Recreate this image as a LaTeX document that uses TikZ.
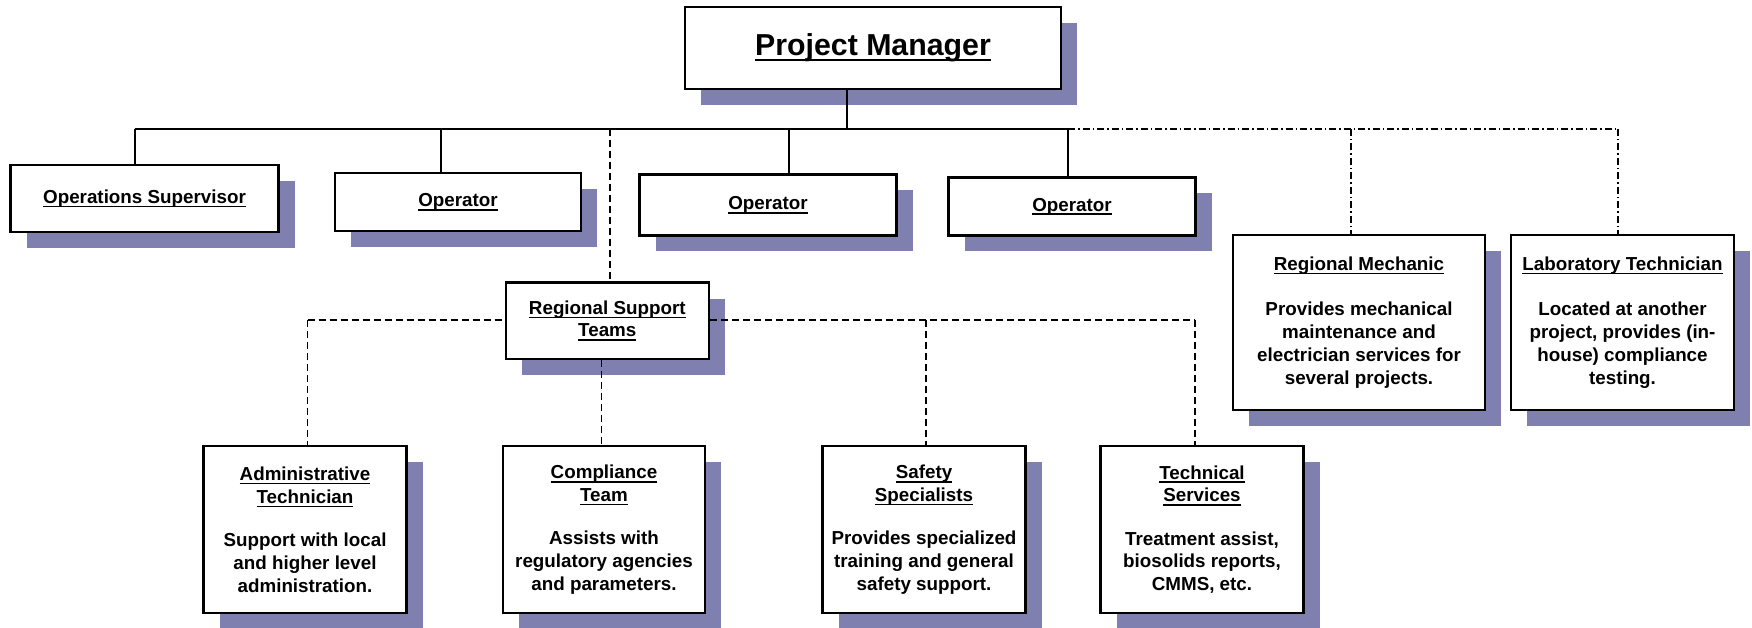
\documentclass[tikz,border=0pt]{standalone}
\usepackage{fontspec}
\setmainfont{Liberation Sans}
\usetikzlibrary{shadows}
\definecolor{shade}{RGB}{128,128,176}
\newsavebox\ulbox
\newcommand\ulx[1]{\sbox\ulbox{#1}\rlap{\rule[-4.1pt]{\wd\ulbox}{1.7pt}}\usebox\ulbox}
\newcommand\ulbig[1]{\sbox\ulbox{#1}\rlap{\rule[-5.4pt]{\wd\ulbox}{2.6pt}}\usebox\ulbox}
\tikzset{
  orgbox/.style={draw, line width=2.4pt, fill=white, align=center, inner sep=0pt,
    font=\bfseries\fontsize{18.8}{22.8}\selectfont,
    drop shadow={shadow xshift=16pt, shadow yshift=-16pt, fill=shade, opacity=1}},
  conn/.style={line width=1.4pt},
  dashconn/.style={line width=1.5pt, dash pattern=on 7pt off 4pt},
  dotdash/.style={line width=1.5pt, dash pattern=on 7pt off 3pt on 1.5pt off 3pt}
}
\begin{document}
\begin{tikzpicture}[x=1pt,y=-1pt]
\useasboundingbox (0,0) rectangle (1752,628);
% nodes
\node[orgbox, minimum width=376pt, minimum height=82pt, font=\bfseries\fontsize{30.3}{34}\selectfont] (pm) at (873,48) {\ulbig{Project Manager}};
\node[orgbox, minimum width=268pt, minimum height=67pt] (ops) at (144.5,198.5) {\ulx{Operations Supervisor}};
\node[orgbox, minimum width=246pt, minimum height=58pt] (op1) at (458,202) {\ulx{Operator}};
\node[orgbox, minimum width=257pt, minimum height=61pt] (op2) at (768,205) {\ulx{Operator}};
\node[orgbox, minimum width=247pt, minimum height=58pt] (op3) at (1072,206.5) {\ulx{Operator}};
\node[orgbox, minimum width=252pt, minimum height=175pt] (mech) at (1359,322.5)
  {\ulx{Regional Mechanic}\\[22.8pt]Provides mechanical\\maintenance and\\electrician services for\\several projects.};
\node[orgbox, minimum width=223pt, minimum height=175pt] (lab) at (1622.5,322.5)
  {\ulx{Laboratory Technician}\\[22.8pt]Located at another\\project, provides (in-\\house) compliance\\testing.};
\node[orgbox, minimum width=203pt, minimum height=76.5pt] (rst) at (607.3,320.8)
  {\ulx{Regional Support}\\\ulx{Teams}};
\node[orgbox, minimum width=203pt, minimum height=167pt] (admin) at (305,529.5)
  {\ulx{Administrative}\\\ulx{Technician}\\[20.5pt]Support with local\\and higher level\\administration.};
\node[orgbox, minimum width=202pt, minimum height=167pt] (comp) at (604,529.5)
  {\ulx{Compliance}\\\ulx{Team}\\[20.5pt]Assists with\\regulatory agencies\\and parameters.};
\node[orgbox, minimum width=203pt, minimum height=167pt] (safe) at (924,529.5)
  {\ulx{Safety}\\\ulx{Specialists}\\[20.5pt]Provides specialized\\training and general\\safety support.};
\node[orgbox, minimum width=203pt, minimum height=167pt] (tech) at (1202,529.5)
  {\ulx{Technical}\\\ulx{Services}\\[20.5pt]Treatment assist,\\biosolids reports,\\CMMS, etc.};
% junction coordinates
\coordinate (hub) at (847,129);
\coordinate (lft) at (135,129);
\coordinate (j1) at (441,129);
\coordinate (jr) at (610,129);
\coordinate (j2) at (789,129);
\coordinate (rgt) at (1068,129);
\coordinate (jm) at (1351,129);
\coordinate (jl) at (1618,129);
\coordinate (ra) at (307.6,320);
\coordinate (jc) at (601.7,400);
\coordinate (js) at (926,320);
\coordinate (rb) at (1195,320);
% solid connectors
\draw[conn] (pm.south -| hub) -- (hub);
\draw[conn] (lft) -- (rgt);
\draw[conn] (lft) -- (ops.north -| lft);
\draw[conn] (j1) -- (op1.north -| j1);
\draw[conn] (j2) -- (op2.north -| j2);
\draw[conn] (rgt) -- (op3.north -| rgt);
% dash-dot connectors
\draw[dotdash] (rgt) -- (jl);
\draw[dotdash] (jm) -- (mech.north -| jm);
\draw[dotdash] (jl) -- (lab.north -| jl);
% dashed connectors
\draw[dashconn] (jr) -- (rst.north -| jr);
\draw[dashconn] (ra) -- (rst.west |- ra);
\draw[dashconn] (rst.east |- rb) -- (rb);
\draw[dashconn] (ra) -- (admin.north -| ra);
\draw[dashconn] (rst.south -| jc) -- (comp.north -| jc);
\draw[dashconn] (js) -- (safe.north -| js);
\draw[dashconn] (rb) -- (tech.north -| rb);
\end{tikzpicture}
\end{document}
